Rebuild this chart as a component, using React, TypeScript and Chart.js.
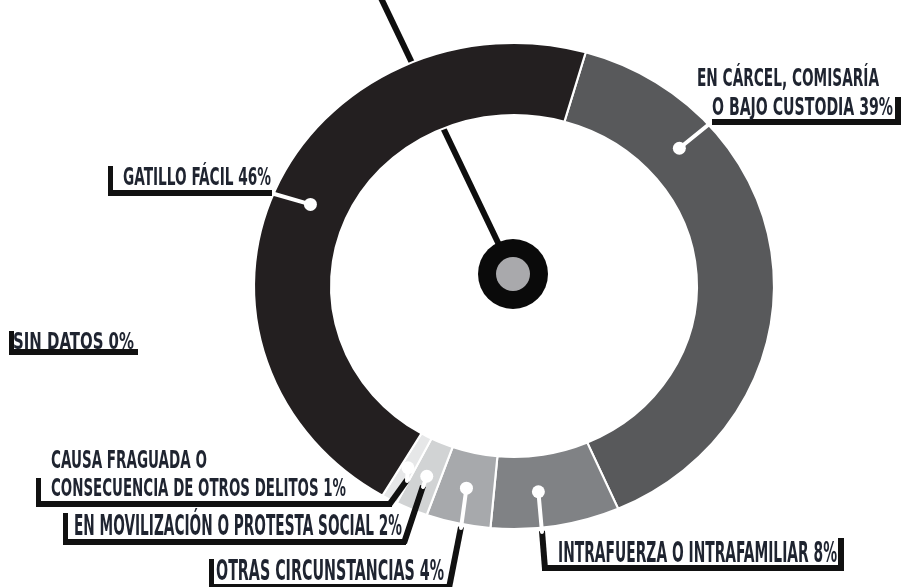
import React, { useEffect, useRef } from 'react';
import { Chart, registerables } from 'chart.js';

Chart.register(...registerables);

// ---- Data ----
const categories = [
  'En cárcel, comisaría\no bajo custodia',
  'Intrafuerza o intrafamiliar',
  'Otras circunstancias',
  'En movilización o protesta social',
  'Causa fraguada o\nconsecuencia de otros delitos',
  'Gatillo fácil',
  'Sin datos',
];
const percentages = [39, 8, 4, 2, 1, 46, 0];
const segmentColors = ['#58595b', '#808285', '#a7a9ac', '#d1d3d4', '#e6e7e8', '#231f20', '#ffffff'];

// ---- Layout / style ----
const W = 904;
const H = 587;
const STRETCH = 1.07;
const OUTER = 243;
const INNER = 171;
const ROTATION = 16;
const FONT = '"Liberation Sans Narrow", "DejaVu Sans Condensed", "Roboto", sans-serif';
const TEXT_COLOR = '#1f2430';

type Pt = [number, number];
interface LabelLayout {
  lines: { x: number; y: number; w: number }[];
  size: number;
  bracket: { side: 'left' | 'right'; x1: number; x2: number; top: number; bottom: number };
  black?: Pt[];
  white?: Pt;
  t?: number;
}

const layouts: LabelLayout[] = [
  {
    lines: [{ x: 697, y: 86, w: 182 }, { x: 712, y: 115, w: 181 }],
    size: 25,
    bracket: { side: 'right', x1: 712, x2: 901, top: 97, bottom: 125 },
    white: [713, 121],
    t: 0.23,
  },
  {
    lines: [{ x: 558, y: 562, w: 279 }],
    size: 29,
    bracket: { side: 'right', x1: 542, x2: 844, top: 538, bottom: 571 },
    black: [[545, 569], [542, 531]],
    white: [542, 532],
    t: 0.6,
  },
  {
    lines: [{ x: 216, y: 580, w: 228 }],
    size: 28,
    bracket: { side: 'left', x1: 209, x2: 451, top: 559, bottom: 590 },
    black: [[449, 588], [461, 527]],
    white: [461, 528],
    t: 0.5,
  },
  {
    lines: [{ x: 74, y: 535, w: 328 }],
    size: 28,
    bracket: { side: 'left', x1: 63, x2: 406, top: 513, bottom: 545 },
    black: [[404, 543], [423, 486]],
    white: [423, 487],
    t: 0.5,
  },
  {
    lines: [{ x: 51, y: 468, w: 156 }, { x: 51, y: 496, w: 295 }],
    size: 25,
    bracket: { side: 'left', x1: 36, x2: 392, top: 478, bottom: 507 },
    black: [[389, 505], [407, 480]],
    white: [407, 481],
    t: 0.5,
  },
  {
    lines: [{ x: 123, y: 185, w: 148 }],
    size: 24,
    bracket: { side: 'left', x1: 108, x2: 272, top: 166, bottom: 196 },
    white: [271, 193],
    t: 0.5,
  },
  {
    lines: [{ x: 13, y: 349, w: 121 }],
    size: 23,
    bracket: { side: 'left', x1: 9, x2: 138, top: 331, bottom: 355 },
  },
];

const NEEDLE_TOP: Pt = [380, -4];
const HUB: Pt = [513, 274];

const gaugePlugin = {
  id: 'gaugeDecor',
  beforeDatasetsDraw(chart: any) {
    const ctx: CanvasRenderingContext2D = chart.ctx;
    ctx.save();
    ctx.strokeStyle = '#0e0e0e';
    ctx.lineWidth = 6;
    ctx.beginPath();
    ctx.moveTo(NEEDLE_TOP[0], NEEDLE_TOP[1]);
    ctx.lineTo(HUB[0], HUB[1]);
    ctx.stroke();
    ctx.restore();
  },
  beforeDatasetDraw(chart: any) {
    const ctx: CanvasRenderingContext2D = chart.ctx;
    const arc = chart.getDatasetMeta(0).data[0];
    const cx = arc ? arc.x : 0;
    ctx.save();
    ctx.translate(cx, 0);
    ctx.scale(STRETCH, 1);
    ctx.translate(-cx, 0);
  },
  afterDatasetDraw(chart: any) {
    chart.ctx.restore();
  },
  afterDatasetsDraw(chart: any) {
    const ctx: CanvasRenderingContext2D = chart.ctx;
    const meta = chart.getDatasetMeta(0);
    ctx.save();

    // hub
    ctx.fillStyle = '#0a0a0a';
    ctx.beginPath();
    ctx.arc(HUB[0], HUB[1], 35, 0, Math.PI * 2);
    ctx.fill();
    ctx.fillStyle = '#a9a9ac';
    ctx.beginPath();
    ctx.arc(HUB[0], HUB[1], 17, 0, Math.PI * 2);
    ctx.fill();

    layouts.forEach((lay, i) => {
      const value = percentages[i];
      const text = `${categories[i].toUpperCase()} ${value}%`;
      const lines = text.split('\n');

      // black leader
      if (lay.black) {
        ctx.strokeStyle = '#111111';
        ctx.lineWidth = 6;
        ctx.lineCap = 'butt';
        ctx.beginPath();
        lay.black.forEach((p, k) => (k === 0 ? ctx.moveTo(p[0], p[1]) : ctx.lineTo(p[0], p[1])));
        ctx.stroke();
      }

      // white leader + dot on the arc
      const arc = meta.data[i];
      if (lay.white && arc && value > 0) {
        const p = arc.getProps(['x', 'y', 'startAngle', 'endAngle', 'innerRadius', 'outerRadius'], true);
        const t = lay.t ?? 0.5;
        const ang = p.startAngle + t * (p.endAngle - p.startAngle);
        const r = (p.innerRadius + p.outerRadius) / 2;
        const dx = p.x + Math.cos(ang) * r * STRETCH;
        const dy = p.y + Math.sin(ang) * r;
        ctx.strokeStyle = '#ffffff';
        ctx.lineWidth = 4;
        ctx.lineCap = 'round';
        ctx.beginPath();
        ctx.moveTo(lay.white[0], lay.white[1]);
        ctx.lineTo(dx, dy);
        ctx.stroke();
        ctx.fillStyle = '#ffffff';
        ctx.beginPath();
        ctx.arc(dx, dy, 6.5, 0, Math.PI * 2);
        ctx.fill();
      }

      // bracket
      const b = lay.bracket;
      ctx.fillStyle = '#111111';
      ctx.fillRect(b.x1, b.bottom - 6, b.x2 - b.x1, 6);
      if (b.side === 'left') ctx.fillRect(b.x1, b.top, 5, b.bottom - b.top);
      else ctx.fillRect(b.x2 - 6, b.top, 6, b.bottom - b.top);

      // text
      ctx.fillStyle = TEXT_COLOR;
      ctx.font = `bold ${lay.size}px ${FONT}`;
      ctx.textBaseline = 'alphabetic';
      ctx.textAlign = 'left';
      lines.forEach((ln, k) => {
        const pos = lay.lines[k];
        if (!pos) return;
        const m = ctx.measureText(ln).width || 1;
        ctx.save();
        ctx.translate(pos.x, pos.y);
        ctx.scale(pos.w / m, 1);
        ctx.fillText(ln, 0, 0);
        ctx.restore();
      });
    });

    ctx.restore();
  },
};

export default function App() {
  const ref = useRef<HTMLCanvasElement | null>(null);

  useEffect(() => {
    if (!ref.current) return;
    const chart = new Chart(ref.current, {
      type: 'doughnut',
      data: {
        labels: categories.map((c) => c.replace('\n', ' ')),
        datasets: [
          {
            data: percentages,
            backgroundColor: segmentColors,
            borderColor: '#ffffff',
            borderWidth: 2,
          },
        ],
      },
      options: {
        responsive: false,
        animation: false,
        events: [],
        rotation: ROTATION,
        radius: OUTER,
        cutout: `${(INNER / OUTER) * 100}%`,
        layout: { padding: { left: 124, right: 0, top: 0, bottom: 15 } },
        plugins: {
          legend: { display: false },
          tooltip: { enabled: false },
        },
      } as any,
      plugins: [gaugePlugin],
    });
    return () => chart.destroy();
  }, []);

  return (
    <div style={{ position: 'fixed', left: 0, top: 0, width: W, height: H, background: '#ffffff' }}>
      <canvas ref={ref} width={W} height={H} style={{ display: 'block' }} />
    </div>
  );
}
